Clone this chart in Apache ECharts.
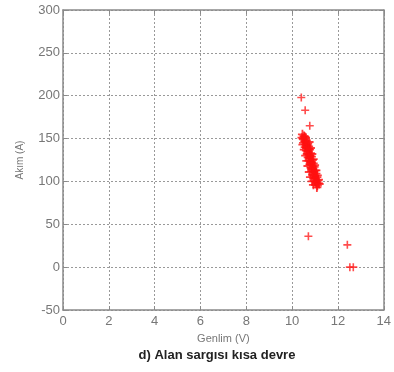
<!DOCTYPE html>
<html>
<head>
<meta charset="utf-8">
<script src="https://cdn.jsdelivr.net/npm/echarts@6/dist/echarts.min.js"></script>
<style>
  html, body { margin: 0; padding: 0; background: #fff; }
  #chart { width: 394px; height: 372px; }
</style>
</head>
<body>
<div id="chart"></div>
<script>
// main cluster of measurements (voltage V, current A)
const clusterPoints = [
  [10.45, 155], [10.52, 153], [10.48, 150], [10.58, 151], [10.55, 147], [10.62, 148],
  [10.50, 145], [10.60, 143], [10.68, 144], [10.57, 140], [10.65, 139], [10.72, 141],
  [10.62, 136], [10.70, 135], [10.76, 137], [10.66, 132], [10.74, 131], [10.80, 133],
  [10.70, 128], [10.78, 127], [10.84, 129], [10.74, 124], [10.82, 123], [10.88, 125],
  [10.78, 120], [10.86, 119], [10.92, 121], [10.82, 116], [10.90, 115], [10.96, 117],
  [10.86, 112], [10.94, 111], [11.00, 113], [10.90, 108], [10.98, 107], [11.04, 109],
  [10.95, 104], [11.02, 103], [11.08, 105], [11.00, 100], [11.06, 99], [11.12, 101],
  [11.05, 97], [11.10, 95], [11.14, 98], [10.50, 149], [10.55, 152], [10.65, 142],
  [10.60, 146], [10.72, 138], [10.78, 130], [10.84, 122], [10.90, 114], [10.97, 106],
  [11.03, 100], [10.43, 151], [10.47, 143], [10.53, 137], [10.59, 130], [10.64, 124],
  [10.69, 118], [10.75, 111], [10.80, 105], [10.87, 100], [10.93, 96], [10.74, 146],
  [10.80, 139], [10.86, 132], [10.92, 126], [10.98, 119], [11.04, 113], [11.10, 107],
  [11.15, 102], [11.18, 97], [11.08, 93]
];
// isolated points
const outlierPoints = [
  [10.40, 198], [10.57, 183], [10.77, 165], [10.71, 36], [12.41, 26], [12.52, 0], [12.67, 0]
];
const xTicks = [0, 14, 2];
const yTicks = [-50, 300, 50];

const plusPath = 'path://M4,0h2v4h4v2h-4v4h-2v-4h-4v-2h4z';
const gridLine = { show: true, lineStyle: { color: '#999', type: [2, 2], width: 1 } };
const axisLine = { show: true, onZero: false, lineStyle: { color: '#8a8a8a', width: 1.5 } };
const tickIn = { show: true, inside: true, length: 4, lineStyle: { color: '#8a8a8a' } };
const labelStyle = { color: '#777', fontSize: 13, fontFamily: 'Liberation Sans, Arial, sans-serif' };

const myChart = echarts.init(document.getElementById('chart'));
myChart.setOption({
  animation: false,
  title: {
    text: 'd) Alan sargısı kısa devre',
    left: 212,
    textAlign: 'center',
    top: 344,
    textStyle: { fontSize: 13, fontWeight: 'bold', color: '#222', fontFamily: 'Liberation Sans, Arial, sans-serif' }
  },
  grid: { left: 63, right: 9, top: 10, bottom: 62 },
  xAxis: [
    {
      type: 'value',
      min: xTicks[0], max: xTicks[1], interval: xTicks[2],
      name: 'Genlim (V)',
      nameLocation: 'middle',
      nameGap: 23,
      nameTextStyle: { color: '#777', fontSize: 11, fontFamily: 'Liberation Sans, Arial, sans-serif' },
      axisLine: axisLine,
      axisTick: tickIn,
      axisLabel: Object.assign({ margin: 5 }, labelStyle),
      splitLine: gridLine
    },
    {
      type: 'value', position: 'top',
      min: xTicks[0], max: xTicks[1], interval: xTicks[2],
      axisLine: axisLine, axisTick: tickIn, axisLabel: { show: false }, splitLine: { show: false }
    }
  ],
  yAxis: [
    {
      type: 'value',
      min: yTicks[0], max: yTicks[1], interval: yTicks[2],
      name: 'Akım (A)',
      nameLocation: 'middle',
      nameGap: 38,
      nameTextStyle: { color: '#777', fontSize: 10, fontFamily: 'Liberation Sans, Arial, sans-serif' },
      axisLine: axisLine,
      axisTick: tickIn,
      axisLabel: Object.assign({ margin: 3 }, labelStyle),
      splitLine: gridLine
    },
    {
      type: 'value', position: 'right',
      min: yTicks[0], max: yTicks[1], interval: yTicks[2],
      axisLine: axisLine, axisTick: tickIn, axisLabel: { show: false }, splitLine: { show: false }
    }
  ],
  series: [
    {
      type: 'scatter',
      data: clusterPoints,
      symbol: plusPath,
      symbolSize: 9,
      itemStyle: { color: '#ff1010' }
    },
    {
      type: 'scatter',
      data: outlierPoints,
      symbol: plusPath,
      symbolSize: 8,
      itemStyle: { color: '#ff2020' }
    }
  ]
});
</script>
</body>
</html>
